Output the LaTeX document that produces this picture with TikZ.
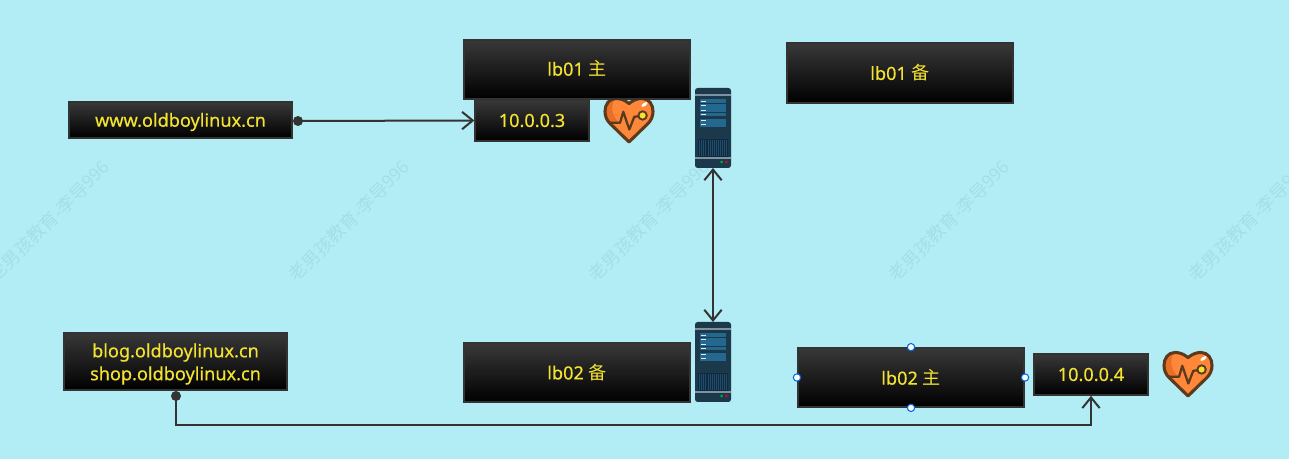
\documentclass[tikz,border=0pt]{standalone}
\usepackage{fontspec}
\setmainfont{Noto Sans}
\newfontfamily\boxfont[FakeBold=0.35]{Noto Sans}
\newfontfamily\cjkfont{Noto Sans CJK SC}
\usetikzlibrary{arrows.meta}
\newcommand{\lowertext}[2]{\raisebox{-#1}[\height][\depth]{#2}}
\definecolor{bgc}{HTML}{B2ECF4}
\definecolor{wmc}{HTML}{A4DFE7}
\definecolor{ln}{HTML}{333333}
\definecolor{txt}{HTML}{F4E231}
\definecolor{srvbody}{HTML}{1C394C}
\definecolor{srvrow}{HTML}{25688F}
\definecolor{srvdark}{HTML}{0F2A3F}
\definecolor{srvband}{HTML}{7E929F}
\definecolor{hfill}{HTML}{FF873A}
\definecolor{hdark}{HTML}{E96F27}
\definecolor{hline}{HTML}{5B3A1E}
\tikzset{
  x=0.75pt,y=-0.75pt,
  darkbox/.style={draw=ln,line width=1.5pt,top color=black!78,bottom color=black,
    text=txt,align=center,inner sep=0pt,font=\fontsize{13.6pt}{17.2pt}\selectfont\boxfont},
  wmark/.style={text=wmc,rotate=45,inner sep=0pt,font=\fontsize{13.4pt}{15pt}\selectfont\cjkfont},
  wire/.style={draw=ln,line width=1.5pt,-{Straight Barb[length=8pt,width=13pt,line width=1.5pt]}},
  twoway/.style={draw=ln,line width=1.5pt,{Straight Barb[length=8pt,width=13pt,line width=1.5pt]}-{Straight Barb[length=8pt,width=13pt,line width=1.5pt]}},
  dotend/.style={circle,fill=ln,draw=none,minimum size=7.5pt,inner sep=0pt},
  handle/.style={circle,fill=white,draw=blue!55!cyan!90!black,line width=.8pt,minimum size=5.5pt,inner sep=0pt},
  srvnode/.style={minimum width=27pt,minimum height=60pt,inner sep=0pt,outer sep=0pt},
  pics/heart/.style={code={
    \def\hp{(0,5) .. controls (-5,1) and (-9,0) .. (-13,0) .. controls (-20,0) and (-24,6) .. (-24,13) .. controls (-24,18) and (-22,22) .. (-19,25) -- (0,43.5) -- (19,25) .. controls (22,22) and (24,18) .. (24,13) .. controls (24,6) and (20,0) .. (13,0) .. controls (9,0) and (5,1) .. (0,5) -- cycle}
    \fill[hfill] \hp;
    \begin{scope}
      \clip \hp;
      \fill[hdark] (-26,-1) -- (-13,-1) .. controls (-19,6) and (-18,18) .. (-9,24.3) -- (-26,24.3) -- cycle;
    \end{scope}
    \draw[hline,line width=2.3pt,line join=round] \hp;
    \draw[hline,line width=1.7pt,line join=round] (-21,24.3) -- (-9,24.3) -- (-5.7,13.3) -- (0.3,31) -- (5.3,18.3) -- (10,17.7);
    \draw[hline,line width=1.4pt,fill=txt] (13.6,17) circle[radius=4.2];
    \fill[white,rotate around={35:(15.5,6)}] (15.5,6) ellipse[x radius=3.6,y radius=1.5];
  }},
  pics/server/.style={code={
    \fill[srvbody,rounded corners=2pt] (0,0) rectangle (36,80);
    \fill[srvband] (0,6) rectangle (36,8);
    \foreach \ya/\yb in {11.3/15.2,15.7/19.7,20.5/24,24.7/28,31/34.8,35.3/38.9}{\fill[srvrow] (5,\ya) rectangle (31,\yb);}
    \foreach \yy in {13.3,17.3,22.3,26.3,32.7,36.7}{\fill[white!85!srvrow] (5.7,\yy-.6) rectangle (11,\yy+.6);}
    \fill[srvdark] (2.5,51) rectangle (33,69);
    \foreach \xx in {4,6,8,10,12.5,14.5,16.5,19,21,23,25,27,29,31}{\fill[srvrow!45!srvbody] (\xx,52) rectangle (\xx+.7,68);}
    \fill[srvband] (0,69) rectangle (36,71);
    \fill[green!55!black!75!cyan] (26.7,74) circle[radius=1.5];
    \fill[red!60!purple] (31.3,74) circle[radius=1.5];
  }}
}
\begin{document}
\begin{tikzpicture}
\useasboundingbox (0,0) rectangle (1289,459);
\fill[bgc] (0,0) rectangle (1289,459);
% watermarks
\node[wmark] (wm0) at (49,221) {老男孩教育-李导996};
\node[wmark] (wm1) at (349,221) {老男孩教育-李导996};
\node[wmark] (wm2) at (649,221) {老男孩教育-李导996};
\node[wmark] (wm3) at (949,221) {老男孩教育-李导996};
\node[wmark] (wm4) at (1249,221) {老男孩教育-李导996};
% hearts
\pic at (629,98.5) {heart};
\pic at (1188,352.5) {heart};
% servers
\pic at (695,88) {server};
\pic at (695,322) {server};
\node[srvnode] (srv1) at (713,128) {};
\node[srvnode] (srv2) at (713,362) {};
% boxes
\node[darkbox,minimum width=85pt,minimum height=30.5pt] (ipa) at (532,120.5) {10.0.0.3};
\node[darkbox,minimum width=169.5pt,minimum height=44pt] (lbam) at (577,69.5) {\lowertext{-0.75pt}{lb01 {\cjkfont 主}}};
\node[darkbox,minimum width=169.5pt,minimum height=44.5pt] (lbab) at (900,73) {lb01 {\cjkfont 备}};
\node[darkbox,minimum width=167pt,minimum height=26.5pt] (www) at (180.5,120) {\lowertext{1.5pt}{www.oldboylinux.cn}};
\node[darkbox,minimum width=169.5pt,minimum height=44pt] (lbbb) at (577,372.5) {lb02 {\cjkfont 备}};
\node[darkbox,minimum width=169.5pt,minimum height=44pt] (lbbm) at (911,377.5) {lb02 {\cjkfont 主}};
\node[darkbox,minimum width=85pt,minimum height=30.5pt] (ipb) at (1091,374.5) {10.0.0.4};
\node[darkbox,minimum width=167pt,minimum height=42.5pt] (blog) at (175.5,361.5) {\lowertext{2pt}{\begin{tabular}{@{}c@{}}blog.oldboylinux.cn\\shop.oldboylinux.cn\end{tabular}}};
% connectors
\node[dotend] (dota) at (298,121) {};
\node[dotend] (dotb) at (176,396) {};
\coordinate (turn) at (1091,425);
\draw[wire] (dota.center) -- (ipa.west);
\draw[twoway] (srv1.south) -- (srv2.north);
\draw[wire] (dotb.center) |- (turn) -- (ipb.south);
% selection handles
\node[handle] (h1) at (lbbm.north) {};
\node[handle] (h2) at (lbbm.south) {};
\node[handle] (h3) at (lbbm.west) {};
\node[handle] (h4) at (lbbm.east) {};
\end{tikzpicture}
\end{document}
